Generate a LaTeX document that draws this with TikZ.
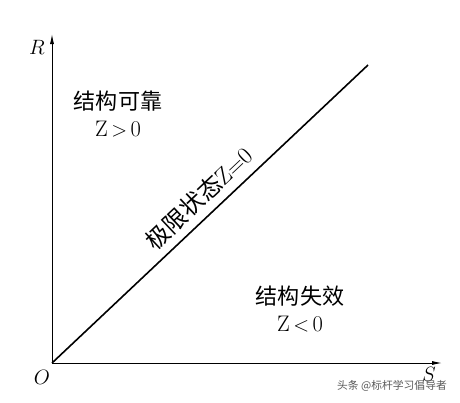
\documentclass[tikz,border=0pt]{standalone}
\usepackage{fontspec}
\newfontfamily\cjk{Noto Sans CJK SC}[Scale=0.98]
\usetikzlibrary{arrows.meta}
\begin{document}
\begin{tikzpicture}[x=1pt,y=-1pt,
  axis/.style={line width=0.9pt,-{Latex[length=10pt,width=4pt]}},
  lbl/.style={font=\fontsize{20}{22}\selectfont,inner sep=0pt},
  region/.style={font=\fontsize{22.5}{27}\selectfont,align=center,inner sep=0pt},
  wm/.style={font=\cjk\fontsize{11}{12}\selectfont,text=black!65,inner sep=0pt}]
\path[use as bounding box,fill=white] (0,0) rectangle (460,402);
\coordinate (O) at (52,363);
\coordinate (Rt) at (52,34);
\coordinate (St) at (442,363);
\coordinate (Le) at (368,65);
\draw[axis] (O) -- (Rt);
\draw[axis] (O) -- (St);
\draw[line width=1.6pt] (O) -- (Le);
\node[lbl] (R) at (37,47) {$R$};
\node[lbl] (Olab) at (42,377) {$O$};
\node[lbl] (S) at (429,374) {$S$};
\node[region] (safe) at (118,114) {{\cjk 结构可靠}\\Z$\,>\,$0};
\node[region] (fail) at (300,309) {{\cjk 结构失效}\\Z$\,<\,$0};
\node[lbl,rotate=43.3,font=\fontsize{24}{26}\selectfont] (lim) at (199,198) {{\cjk 极限状态}Z=0};
\node[wm] (mark) at (392,386) {头条 @标杆学习倡导者};
\end{tikzpicture}
\end{document}
